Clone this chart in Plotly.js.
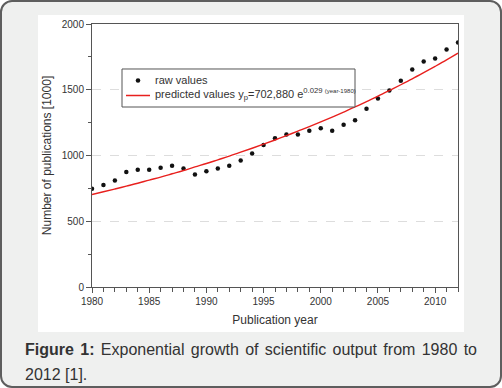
<!DOCTYPE html>
<html>
<head>
<meta charset="utf-8">
<script src="https://cdn.plot.ly/plotly-3.0.1.min.js"></script>
<style>
  html, body { margin: 0; padding: 0; background: #ffffff; }
  #wrap { position: relative; width: 502px; height: 388px; box-sizing: border-box;
          border: 2px solid #5e5e5e; border-radius: 12px; background: #eff0ef; overflow: hidden; }
  #chart { position: absolute; left: -2px; top: -2px; width: 502px; height: 388px; }
  #caption { position: absolute; left: 23px; top: 335px; width: 452px;
             font-family: "Liberation Sans", Arial, sans-serif; font-size: 16px; line-height: 25px;
             color: #333333; text-align: justify; }
</style>
</head>
<body>
<div id="wrap">
  <div id="chart"></div>
  <div id="caption"><b>Figure 1:</b> Exponential growth of scientific output from 1980 to 2012 [1].</div>
</div>
<script>
const years = [1980,1981,1982,1983,1984,1985,1986,1987,1988,1989,1990,1991,1992,1993,1994,1995,
               1996,1997,1998,1999,2000,2001,2002,2003,2004,2005,2006,2007,2008,2009,2010,2011,2012];
const rawValues = [747,775,810,874,891,891,906,922,901,856,881,901,922,962,1015,1079,
                   1132,1160,1160,1188,1208,1188,1233,1269,1355,1433,1494,1568,1654,1714,1737,1806,1859];
const predictedValues = [703,724,745,767,789,813,836,861,886,913,939,967,995,1025,1055,1086,
                         1118,1151,1185,1219,1255,1292,1330,1369,1410,1451,1494,1538,1583,1630,1678,1727,1778];
const xTickVals = [1980,1985,1990,1995,2000,2005,2010];
const yTickVals = [0,500,1000,1500,2000];
const legendLabels = ['raw values',
  "predicted values y<sub>p</sub>=702,880 e<sup>0.029 <span style='font-size:6px'>(year-1980)</span></sup>"];

const font = "Liberation Sans, Arial, sans-serif";
const traces = [
  { x: years, y: rawValues, type: 'scatter', mode: 'markers', name: legendLabels[0],
    marker: { color: '#111111', size: 4.5 } },
  { x: years, y: predictedValues, type: 'scatter', mode: 'lines', name: legendLabels[1],
    line: { color: '#e8201e', width: 1.4, shape: 'spline' } }
];
const axisCommon = {
  showline: true, linecolor: '#555555', linewidth: 1, mirror: true,
  ticks: 'outside', ticklen: 5, tickcolor: '#555555', tickwidth: 1,
  tickfont: { family: font, size: 10, color: '#333333' }, zeroline: false
};
// legend box geometry (paper units)
const lg = { x0: 0.082, x1: 0.7186, y0: 0.6844, y1: 0.8289 };
const layout = {
  width: 502, height: 388,
  margin: { l: 92, r: 44, t: 24, b: 101 },
  paper_bgcolor: 'rgba(0,0,0,0)', plot_bgcolor: '#ffffff',
  showlegend: false,
  xaxis: Object.assign({}, axisCommon, {
    range: [1980, 2012], tickmode: 'array', tickvals: xTickVals, ticktext: xTickVals.map(String),
    showgrid: false,
    minor: { dtick: 1, ticks: 'outside', ticklen: 4, tickcolor: '#555555', showgrid: false },
    title: { text: 'Publication year', font: { family: font, size: 12, color: '#333333' }, standoff: 9 }
  }),
  yaxis: Object.assign({}, axisCommon, {
    range: [0, 2000], tickmode: 'array', tickvals: yTickVals, ticktext: yTickVals.map(String),
    showgrid: true, gridcolor: '#dddddd', griddash: 'dash', gridwidth: 1,
    minor: { dtick: 250, ticks: 'outside', ticklen: 3, tickcolor: '#555555', showgrid: false },
    title: { text: 'Number of publications [1000]', font: { family: font, size: 12, color: '#333333' }, standoff: 7 }
  }),
  shapes: [
    { type: 'rect', xref: 'paper', yref: 'paper', x0: -0.1475, x1: 1.0164, y0: -0.171, y1: 1.034,
      fillcolor: '#ffffff', line: { width: 0 }, layer: 'below' },
    { type: 'rect', xref: 'paper', yref: 'paper', x0: lg.x0, x1: lg.x1, y0: lg.y0, y1: lg.y1,
      fillcolor: '#ffffff', line: { color: '#555555', width: 1 } },
    { type: 'circle', xref: 'paper', yref: 'paper', x0: 0.1257 - 0.0062, x1: 0.1257 + 0.0062,
      y0: 0.7852 - 0.0086, y1: 0.7852 + 0.0086, fillcolor: '#111111', line: { width: 0 } },
    { type: 'line', xref: 'paper', yref: 'paper', x0: 0.0929, x1: 0.1585, y0: 0.7281, y1: 0.7281,
      line: { color: '#e8201e', width: 1.4 } }
  ],
  annotations: [
    { xref: 'paper', yref: 'paper', x: 0.1721, y: 0.7852, xanchor: 'left', yanchor: 'middle',
      text: legendLabels[0], showarrow: false, font: { family: font, size: 11, color: '#333333' }, xshift: -2 },
    { xref: 'paper', yref: 'paper', x: 0.1721, y: 0.7338, xanchor: 'left', yanchor: 'middle',
      text: legendLabels[1], showarrow: false, font: { family: font, size: 11, color: '#333333' }, xshift: -2 }
  ]
};
Plotly.newPlot('chart', traces, layout, { displayModeBar: false, staticPlot: true });
</script>
</body>
</html>
